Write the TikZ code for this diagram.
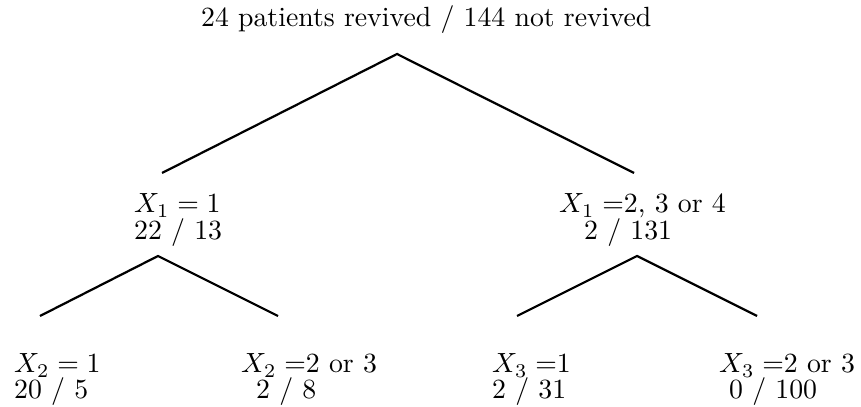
\documentclass[tikz,border=0pt]{standalone}
\usepackage{amsmath,amssymb}
\usepackage{tikz}

\begin{document}
\begin{tikzpicture}[x=0.36pt,y=-0.36pt,thick,every node/.style={anchor=base west,inner sep=0pt}]
			\useasboundingbox (0,0) rectangle (861,407);
			\node (root) at (200,27) {24 patients revived / 144 not revived};
			\coordinate (top) at (397,54);
			\coordinate (a) at (162,173);
			\coordinate (b) at (634,173);
			\draw (a) -- (top) -- (b);
			\node (xa) at (133,213) {$X_1 = 1$};
			\node (na) at (133,240) {22 / 13};
			\node (xb) at (558,213) {$X_1 =$2, 3 or 4};
			\node (nb) at (583,240) {2 / 131};
			\coordinate (topa) at (158,256);
			\coordinate (aa) at (40,316);
			\coordinate (ab) at (278,316);
			\draw (aa) -- (topa) -- (ab);
			\coordinate (topb) at (637,256);
			\coordinate (ba) at (517,316);
			\coordinate (bb) at (757,316);
			\draw (ba) -- (topb) -- (bb);
			\node (xaa) at (13,373) {$X_2 = 1$};
			\node (naa) at (13,398) {20 / 5};
			\node (xab) at (240,373) {$X_2 =$2 or 3};
			\node (nab) at (255,398) {2 / 8};
			\node (xba) at (491,373) {$X_3 =$1};
			\node (nba) at (491,398) {2 / 31};
			\node (xbb) at (718,373) {$X_3 =$2 or 3};
			\node (nbb) at (728,398) {0 / 100};
		\end{tikzpicture}
\end{document}
